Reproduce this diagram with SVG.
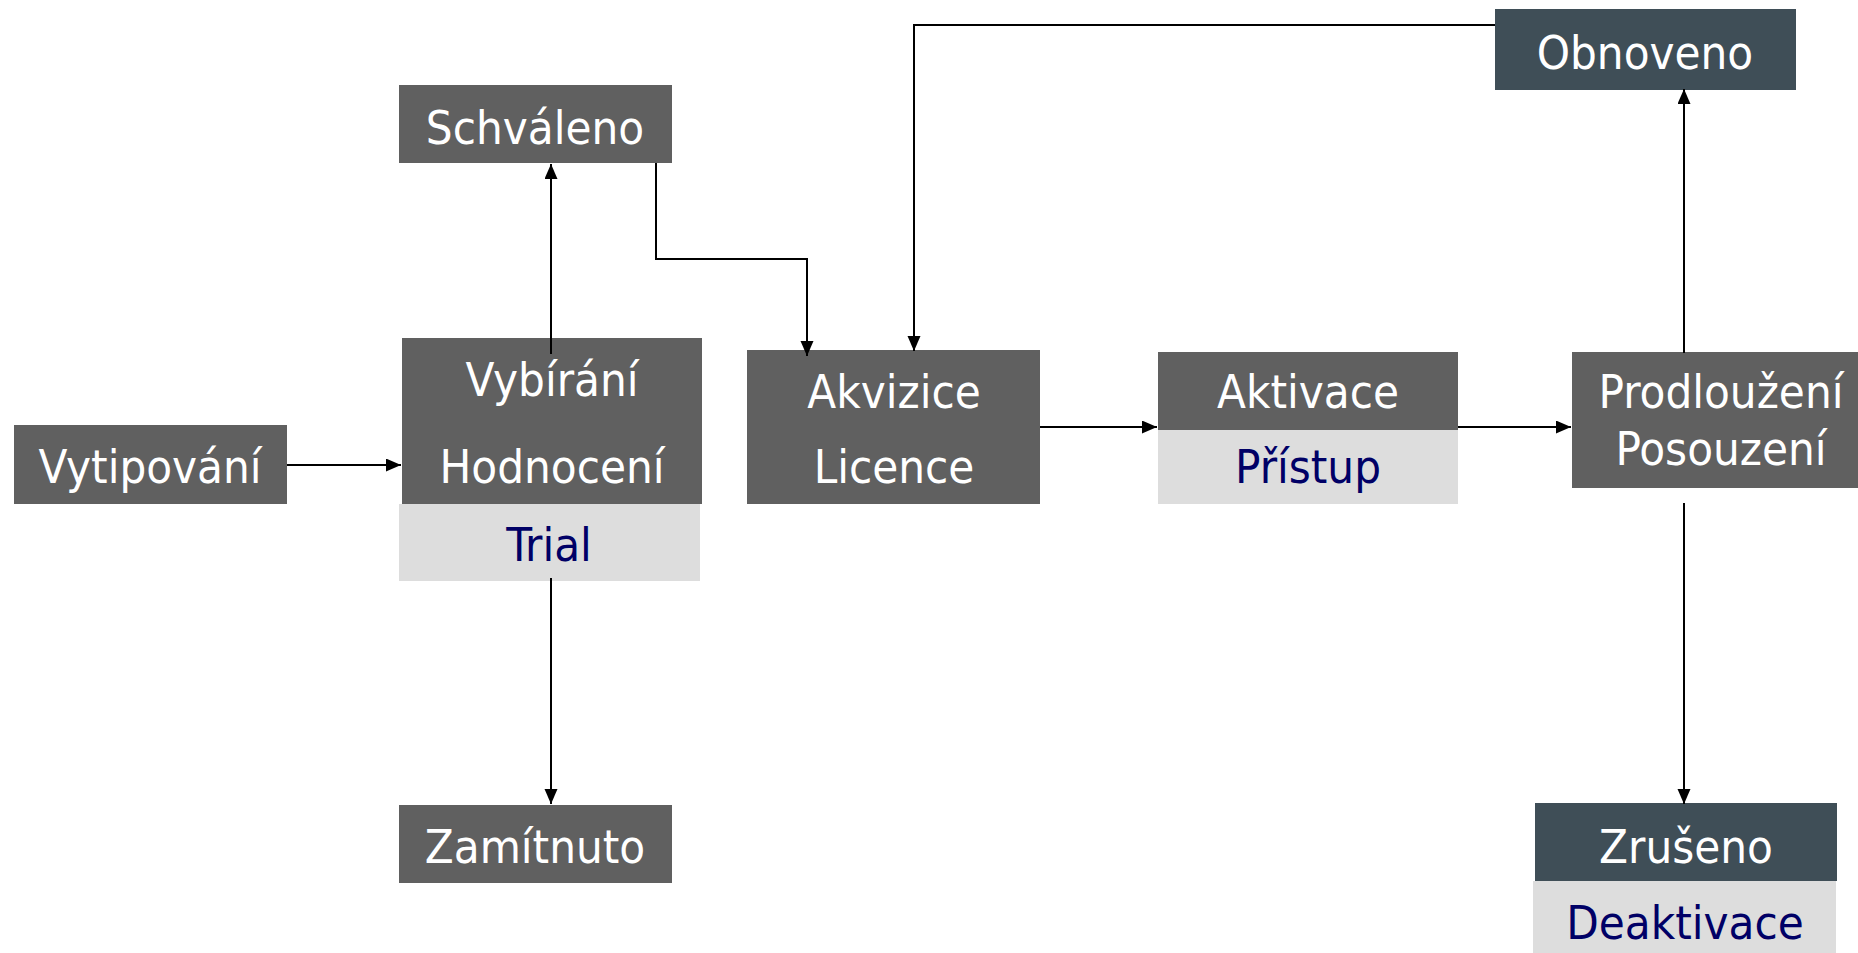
<svg xmlns="http://www.w3.org/2000/svg" width="1858" height="953" viewBox="0 0 1858 953">
<style>
.g{fill:#606060}
.s{fill:#3f4e57}
.l{fill:#dddddd}
.t{font-family:"DejaVu Sans Condensed","DejaVu Sans",sans-serif;font-size:47px;text-anchor:middle;fill:#ffffff}
.n{fill:#000066}
.c{fill:none;stroke:#000;stroke-width:2}
</style>
<defs>
<marker id="a" markerUnits="userSpaceOnUse" markerWidth="16" markerHeight="14" refX="15" refY="6.5" orient="auto">
<path d="M0,0 L15,6.5 L0,13 z" fill="#000"/>
</marker>
</defs>
<rect width="1858" height="953" fill="#fff"/>
<g id="vytipovani">
<rect class="g" x="14" y="425" width="273" height="79"/>
<text class="t" x="150" y="483">Vytipování</text>
</g>
<g id="schvaleno">
<rect class="g" x="399" y="85" width="273" height="78"/>
<text class="t" x="535" y="144">Schváleno</text>
</g>
<g id="vybirani">
<rect class="g" x="402" y="338" width="300" height="166"/>
<rect class="l" x="399" y="504" width="301" height="77"/>
<text class="t" x="552" y="396">Vybírání</text>
<text class="t" x="552" y="483">Hodnocení</text>
<text class="t n" x="549" y="561">Trial</text>
</g>
<g id="zamitnuto">
<rect class="g" x="399" y="805" width="273" height="78"/>
<text class="t" x="535" y="863">Zamítnuto</text>
</g>
<g id="akvizice">
<rect class="g" x="747" y="350" width="293" height="154"/>
<text class="t" x="894" y="408">Akvizice</text>
<text class="t" x="894" y="483">Licence</text>
</g>
<g id="aktivace">
<rect class="g" x="1158" y="352" width="300" height="78"/>
<rect class="l" x="1158" y="430" width="300" height="74"/>
<text class="t" x="1308" y="408">Aktivace</text>
<text class="t n" x="1308" y="483">Přístup</text>
</g>
<g id="prodlouzeni">
<rect class="g" x="1572" y="352" width="300" height="136"/>
<text class="t" x="1721" y="408">Prodloužení</text>
<text class="t" x="1721" y="465">Posouzení</text>
</g>
<g id="obnoveno">
<rect class="s" x="1495" y="9" width="301" height="81"/>
<text class="t" x="1645" y="69">Obnoveno</text>
</g>
<g id="zruseno">
<rect class="s" x="1535" y="803" width="302" height="78"/>
<rect class="l" x="1533" y="881" width="303" height="72"/>
<text class="t" x="1686" y="863">Zrušeno</text>
<text class="t n" x="1685" y="939">Deaktivace</text>
</g>
<g id="connectors">
<path class="c" d="M287,465 H401" marker-end="url(#a)"/>
<path class="c" d="M551,354 V164" marker-end="url(#a)"/>
<path class="c" d="M656,163 V259 H807 V356" marker-end="url(#a)"/>
<path class="c" d="M1495,25 H914 V351" marker-end="url(#a)"/>
<path class="c" d="M1040,427 H1157" marker-end="url(#a)"/>
<path class="c" d="M1458,427 H1571" marker-end="url(#a)"/>
<path class="c" d="M1684,353 V89" marker-end="url(#a)"/>
<path class="c" d="M1684,503 V804" marker-end="url(#a)"/>
<path class="c" d="M551,578 V804" marker-end="url(#a)"/>
</g>
</svg>
